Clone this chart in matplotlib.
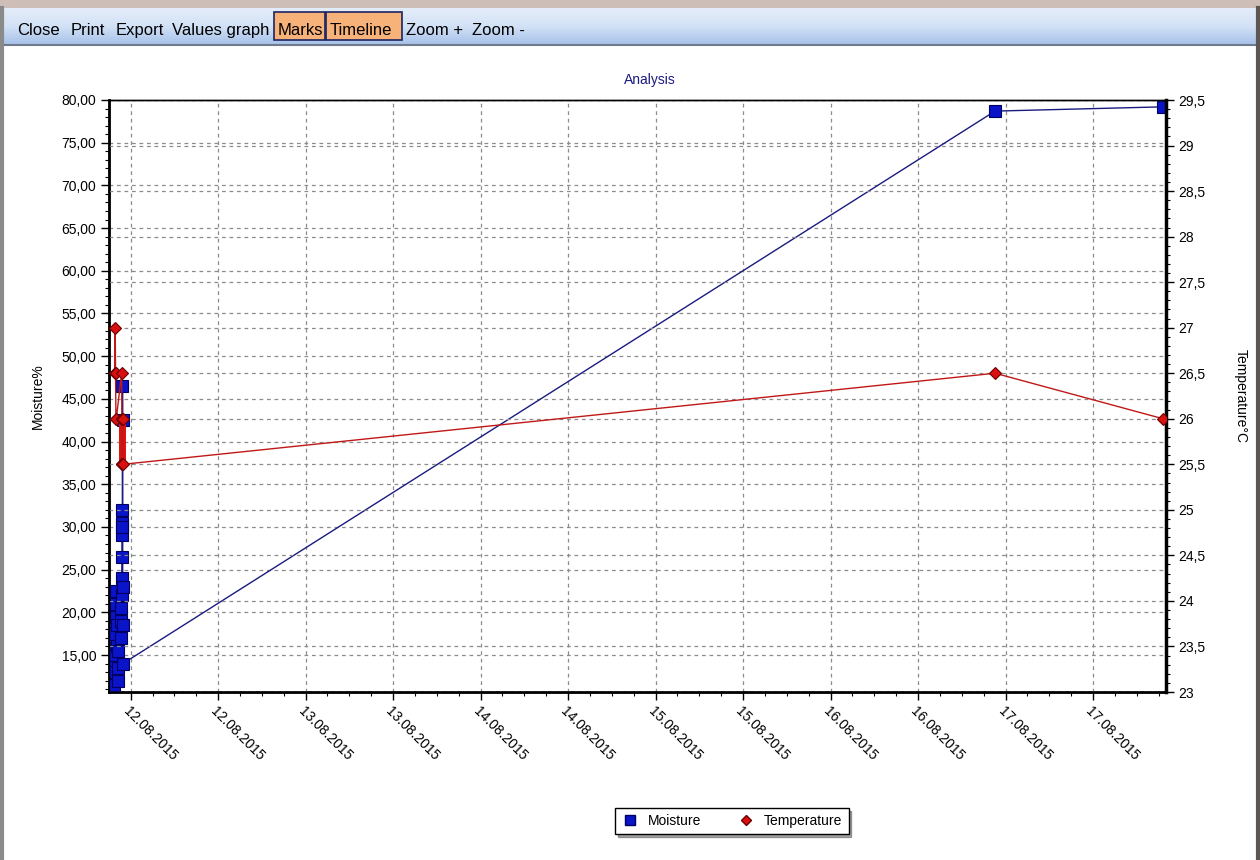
import numpy as np
import matplotlib.pyplot as plt
import matplotlib.dates as mdates
from matplotlib.colors import LinearSegmentedColormap
from matplotlib.patches import Rectangle
from matplotlib.lines import Line2D
from matplotlib.ticker import FixedLocator, MultipleLocator, FuncFormatter
from datetime import datetime

plt.rcParams['font.family'] = ['Liberation Sans', 'DejaVu Sans']

# moisture readings (timestamp, %)
moist_times = ["11.08.2015 21:15", "11.08.2015 21:18", "11.08.2015 21:21", "11.08.2015 21:24",
               "11.08.2015 21:27", "11.08.2015 21:30", "11.08.2015 21:33", "11.08.2015 21:36",
               "11.08.2015 21:39", "11.08.2015 21:42", "11.08.2015 21:45", "11.08.2015 21:48",
               "11.08.2015 21:51", "11.08.2015 21:54", "11.08.2015 21:57", "11.08.2015 22:00",
               "11.08.2015 22:03", "11.08.2015 22:06", "11.08.2015 22:09", "11.08.2015 22:12",
               "11.08.2015 22:15", "11.08.2015 22:18", "11.08.2015 22:40", "11.08.2015 22:42",
               "11.08.2015 22:44", "11.08.2015 22:46", "11.08.2015 22:47", "11.08.2015 22:48",
               "11.08.2015 22:49", "11.08.2015 22:50", "11.08.2015 22:51", "11.08.2015 22:52",
               "11.08.2015 22:53", "11.08.2015 22:54", "11.08.2015 22:55", "11.08.2015 22:56",
               "11.08.2015 22:57", "16.08.2015 22:33", "17.08.2015 21:36"]
moist_vals = [11.0, 12.0, 13.5, 15.0, 16.5, 18.0, 17.0, 15.5, 14.0, 12.5, 11.5, 13.0,
              15.0, 17.5, 19.5, 22.5, 21.0, 18.5, 16.0, 13.5, 12.0, 15.5, 17.0, 19.0,
              20.5, 22.0, 24.0, 26.5, 29.0, 30.5, 32.0, 30.0, 46.5, 42.5, 23.0, 18.5,
              14.0, 78.7, 79.2]

# temperature readings (timestamp, °C)
temp_times = ["11.08.2015 21:50", "11.08.2015 21:53", "11.08.2015 21:56", "11.08.2015 21:59",
              "11.08.2015 22:02", "11.08.2015 22:46", "11.08.2015 22:48", "11.08.2015 22:49",
              "11.08.2015 22:50", "11.08.2015 22:51", "11.08.2015 22:52", "11.08.2015 22:53",
              "11.08.2015 22:54", "11.08.2015 22:56", "16.08.2015 22:33", "17.08.2015 21:36"]
temp_vals = [26.5, 27.0, 26.5, 26.0, 26.0, 26.5, 26.0, 25.5, 26.0, 25.5, 26.0, 25.5,
             26.0, 25.5, 26.5, 26.0]

toolbar_items = ["Close", "Print", "Export", "Values graph", "Marks", "Timeline", "Zoom +", "Zoom -"]


def parse(ts):
    return [datetime.strptime(t, "%d.%m.%Y %H:%M") for t in ts]


mt = parse(moist_times)
tt = parse(temp_times)

fig = plt.figure(figsize=(12.6, 8.6), dpi=100)
fig.patch.set_facecolor("white")

# window chrome drawn in pixel coordinates
bg = fig.add_axes([0, 0, 1, 1], zorder=-10)
grad = np.linspace(0, 1, 50).reshape(-1, 1)
bg.imshow(grad, extent=(3, 1257, 44, 8), aspect="auto", zorder=0,
          cmap=LinearSegmentedColormap.from_list("tb", ["#e4edf9", "#d3e2f6", "#a8c3ea"]))
bg.set_xlim(0, 1260)
bg.set_ylim(860, 0)
bg.axis("off")
bg.add_patch(Rectangle((0, 0), 1260, 8, color="#cdbfb8", lw=0))
bg.plot([0, 1260], [45, 45], color="#6f7a8a", lw=1.5)
bg.plot([1.5, 1.5], [8, 860], color="#8a8a8a", lw=3)
bg.plot([1258, 1258], [8, 860], color="#5e5650", lw=3)
bg.add_patch(Rectangle((274, 12), 51, 28, facecolor="#f7b27a", edgecolor="#1c2460", lw=1.2, zorder=2))
bg.add_patch(Rectangle((326, 12), 76, 28, facecolor="#f7b27a", edgecolor="#1c2460", lw=1.2, zorder=2))
xpos = [17, 71, 116, 172, 278, 330, 406, 472]
for x, s in zip(xpos, toolbar_items):
    bg.text(x, 35, s, fontsize=12, va="baseline", ha="left", color="black", zorder=3)

ax1 = fig.add_axes([109 / 1260, 1 - 692 / 860, (1166 - 109) / 1260, (692 - 100) / 860])
ax2 = ax1.twinx()

ax1.plot(mt, moist_vals, color="#1a1a80", lw=1, marker="s", ms=9,
         mfc="#0a14c8", mec="#000060", mew=0.8, zorder=3)
ax2.plot(tt, temp_vals, color="#c01818", lw=1, marker="D", ms=6.5,
         mfc="#d81010", mec="#700000", mew=0.8, zorder=3)
# thick band from repeated toggling readings
ax2.plot([tt[7], tt[7]], [25.5, 26.0], color="#e01010", lw=5, zorder=2)

x0 = datetime(2015, 8, 11, 21, 2)
x1 = datetime(2015, 8, 17, 22, 0)
ax1.set_xlim(x0, x1)
ax1.set_ylim(10.67, 80)
ax2.set_ylim(23, 29.5)

ax1.set_yticks(np.arange(15, 81, 5))
ax1.yaxis.set_minor_locator(MultipleLocator(1))
ax1.yaxis.set_major_formatter(FuncFormatter(lambda v, p: ("%.2f" % v).replace(".", ",")))
ax2.set_yticks(np.arange(23, 29.51, 0.5))
ax2.yaxis.set_minor_locator(MultipleLocator(0.1))
ax2.yaxis.set_major_formatter(FuncFormatter(
    lambda v, p: ("%d" % v) if abs(v - round(v)) < 1e-6 else ("%.1f" % v).replace(".", ",")))

xt = [mdates.date2num(datetime(2015, 8, 12 + i // 2, 12 * (i % 2))) for i in range(12)]
ax1.xaxis.set_major_locator(FixedLocator(xt))
ax1.xaxis.set_minor_locator(FixedLocator(np.arange(xt[0] - 0.125, mdates.date2num(x1), 0.125)))
ax1.xaxis.set_major_formatter(mdates.DateFormatter("%d.%m.%Y"))

for a in (ax1, ax2):
    a.tick_params(which="major", direction="out", length=6, width=1, labelsize=10, pad=3)
    a.tick_params(which="minor", direction="out", length=3, width=0.8)
    for sp in a.spines.values():
        sp.set_linewidth(1)
ax1.spines["left"].set_linewidth(2)
ax1.spines["bottom"].set_linewidth(2)
ax2.spines["right"].set_linewidth(2.5)

for lab in ax1.get_xticklabels():
    lab.set_rotation(-45)
    lab.set_ha("left")
    lab.set_va("top")
    lab.set_rotation_mode("anchor")

ax1.grid(True, which="major", color="#8c8c8c", ls=(0, (3, 3)), lw=0.9)
ax2.grid(True, which="major", axis="y", color="#8c8c8c", ls=(0, (3, 3)), lw=0.9)
ax1.set_axisbelow(True)
ax2.set_axisbelow(True)

ax1.set_ylabel("Moisture%", fontsize=10, labelpad=12)
ax2.set_ylabel("Temperature°C", fontsize=10, rotation=-90, labelpad=30)
fig.text(650 / 1260, 1 - 80 / 860, "Analysis", fontsize=10, color="#1a1a80", ha="center", va="center")

handles = [Line2D([], [], ls="none", marker="s", ms=7, mfc="#0a14c8", mec="#000060"),
           Line2D([], [], ls="none", marker="D", ms=5.5, mfc="#d81010", mec="#700000")]
leg = fig.legend(handles, ["Moisture", "Temperature"], loc="center",
                 bbox_to_anchor=(732 / 1260, 1 - 821 / 860), ncol=2, fontsize=10,
                 frameon=True, fancybox=False, shadow=True, edgecolor="black",
                 handletextpad=0.7, columnspacing=2.6, borderpad=0.45, handlelength=1.2,
                 borderaxespad=0)
leg.get_frame().set_linewidth(1)

fig.savefig("out.png", dpi=100)
